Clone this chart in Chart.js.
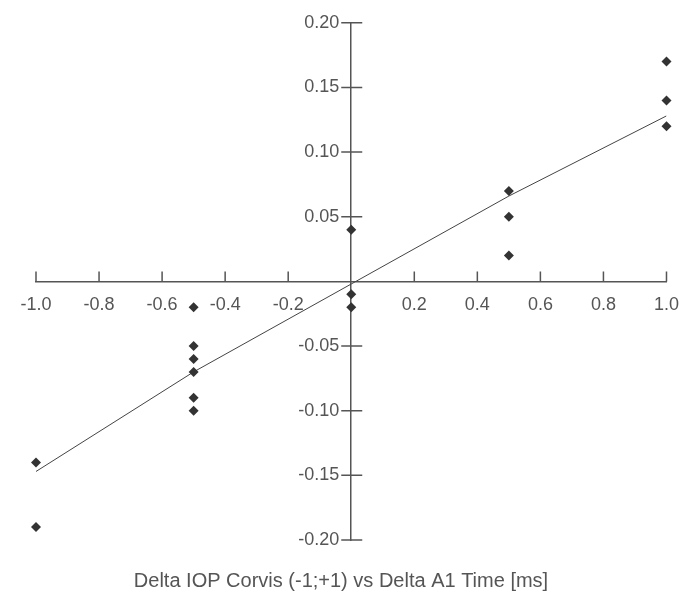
<!DOCTYPE html>
<html>
<head>
<meta charset="utf-8">
<script src="https://cdn.jsdelivr.net/npm/chart.js@4"></script>
<style>
  html, body { margin: 0; padding: 0; background: #fff; }
  #wrap { width: 692px; height: 599px; }
</style>
</head>
<body>
<div id="wrap"><canvas id="scatterChart"></canvas></div>
<script>
// measured points: x = Delta A1 Time [ms], y = Delta IOP Corvis
const pointX = [-1, -1, -0.5, -0.5, -0.5, -0.5, -0.5, -0.5, 0, 0, 0, 0.5, 0.5, 0.5, 1, 1, 1];
const pointY = [-0.14, -0.19, -0.02, -0.05, -0.06, -0.07, -0.09, -0.10, 0.04, -0.01, -0.02, 0.07, 0.05, 0.02, 0.17, 0.14, 0.12];

// trend line (it bends slightly)
const trendX = [-1, -0.5, 0, 0.5, 1];
const trendY = [-0.147, -0.070, -0.002, 0.066, 0.128];

const xTicks = [-1.0, -0.8, -0.6, -0.4, -0.2, 0, 0.2, 0.4, 0.6, 0.8, 1.0];
const yTicks = [-0.20, -0.15, -0.10, -0.05, 0, 0.05, 0.10, 0.15, 0.20];

const axisColor = '#555';
const textColor = '#555';
const fontFamily = "'Liberation Sans', Arial, sans-serif";

// tick marks: x ticks point up, y ticks cross the axis
const tickMarks = {
    id: 'tickMarks',
    afterDraw(chart) {
        const { ctx, scales: { x, y } } = chart;
        const x0 = x.getPixelForValue(0);
        const y0 = y.getPixelForValue(0);
        ctx.save();
        ctx.strokeStyle = axisColor;
        ctx.lineWidth = 1.5;
        ctx.beginPath();
        xTicks.forEach(v => {
            if (v === 0) return;
            const px = x.getPixelForValue(v);
            ctx.moveTo(px, y0 - 10);
            ctx.lineTo(px, y0);
        });
        yTicks.forEach(v => {
            if (v === 0) return;
            const py = y.getPixelForValue(v);
            ctx.moveTo(x0 - 10, py);
            ctx.lineTo(x0 + 11, py);
        });
        ctx.stroke();
        ctx.restore();
    }
};

new Chart(document.getElementById('scatterChart'), {
    type: 'scatter',
    data: {
        datasets: [
            {
                label: 'Delta IOP',
                data: pointX.map((v, i) => ({ x: v, y: pointY[i] })),
                pointStyle: 'rectRot',
                pointRadius: 5,
                pointHoverRadius: 5,
                backgroundColor: '#333',
                borderColor: '#333',
                borderWidth: 0,
                clip: false
            },
            {
                type: 'line',
                label: 'Trend',
                data: trendX.map((v, i) => ({ x: v, y: trendY[i] })),
                borderColor: '#444',
                borderWidth: 1,
                pointRadius: 0,
                tension: 0,
                fill: false
            }
        ]
    },
    options: {
        responsive: true,
        maintainAspectRatio: false,
        animation: false,
        layout: {
            padding: { left: 12, right: 22, top: 21, bottom: 6 }
        },
        scales: {
            x: {
                type: 'linear',
                position: { y: 0 },
                min: -1,
                max: 1,
                afterFit: scale => { scale.height = 0; },
                afterBuildTicks: scale => { scale.ticks = xTicks.map(v => ({ value: v })); },
                grid: { display: true, drawOnChartArea: false, drawTicks: false },
                border: { display: true, color: axisColor, width: 1.5 },
                ticks: {
                    color: textColor,
                    font: { family: fontFamily, size: 18 },
                    padding: 13,
                    maxRotation: 0,
                    callback: v => v === 0 ? '' : v.toFixed(1)
                }
            },
            y: {
                type: 'linear',
                position: 'center',
                min: -0.2,
                max: 0.2,
                afterFit: scale => { scale.width = 0; },
                afterBuildTicks: scale => { scale.ticks = yTicks.map(v => ({ value: v })); },
                grid: { display: true, drawOnChartArea: false, drawTicks: false },
                border: { display: true, color: axisColor, width: 1.5 },
                ticks: {
                    color: textColor,
                    font: { family: fontFamily, size: 18 },
                    padding: 12,
                    callback: v => Math.abs(v) < 1e-9 ? '' : v.toFixed(2)
                }
            },
            // empty spacer on the left so the caption sits a little left of centre
            spacer: {
                type: 'linear',
                axis: 'y',
                position: 'left',
                afterFit: scale => { scale.width = 24; },
                grid: { display: false },
                border: { display: false },
                ticks: { display: false }
            }
        },
        plugins: {
            legend: { display: false },
            tooltip: { enabled: false },
            title: {
                display: true,
                position: 'bottom',
                text: 'Delta IOP Corvis (-1;+1) vs Delta A1 Time [ms]',
                color: textColor,
                font: { family: fontFamily, size: 20, weight: 'normal' },
                padding: { top: 29, bottom: 0 }
            }
        }
    },
    plugins: [tickMarks]
});
</script>
</body>
</html>
